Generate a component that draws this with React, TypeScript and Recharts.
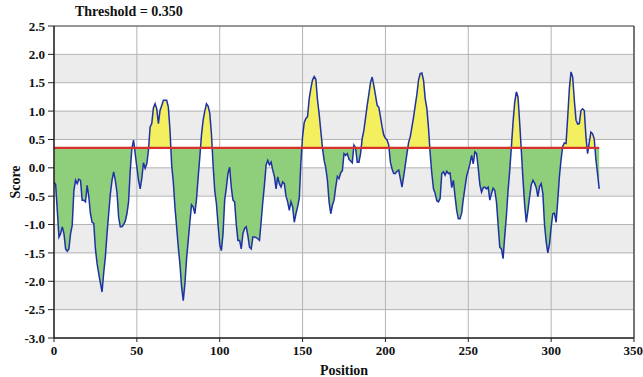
import { ComposedChart, Area, Line, XAxis, YAxis, CartesianGrid, ReferenceLine } from "recharts"

const THRESHOLD = 0.35

const positions = [
  0, 1, 3, 4, 5, 6, 7, 8, 9, 10, 11, 12, 13, 14, 15, 16, 17, 18, 19, 20,
  21, 22, 23, 24, 25, 26, 27, 29, 30, 31, 32, 33, 34, 35, 36, 37, 38, 39, 40, 41,
  42, 43, 44, 45, 46, 47, 48, 49, 50, 51, 52, 53, 54, 55, 56, 57, 58, 59, 60, 61,
  62, 63, 64, 65, 66, 68, 69, 70, 71, 72, 73, 74, 75, 76, 77, 78, 79, 80, 81, 82,
  83, 84, 85, 86, 87, 88, 89, 90, 91, 92, 93, 94, 95, 96, 97, 98, 99, 100, 101, 102,
  103, 104, 105, 106, 107, 108, 109, 110, 111, 112, 113, 114, 115, 116, 117, 118, 119, 120, 121, 122,
  123, 124, 125, 126, 127, 128, 129, 130, 131, 132, 133, 134, 135, 136, 137, 138, 139, 140, 141, 142,
  143, 144, 145, 146, 147, 148, 149, 150, 151, 152, 153, 154, 155, 156, 157, 158, 159, 160, 161, 162,
  163, 164, 165, 166, 167, 168, 169, 170, 171, 172, 173, 174, 175, 176, 177, 178, 179, 180, 181, 182,
  183, 184, 185, 186, 187, 188, 189, 190, 191, 192, 193, 194, 195, 196, 197, 198, 199, 200, 201, 202,
  203, 204, 205, 206, 207, 208, 209, 210, 211, 212, 213, 214, 215, 216, 217, 218, 219, 220, 221, 222,
  223, 224, 225, 226, 227, 228, 229, 230, 231, 232, 233, 234, 235, 236, 237, 238, 239, 240, 241, 242,
  243, 244, 245, 246, 247, 248, 249, 250, 251, 252, 253, 254, 255, 256, 257, 258, 259, 260, 261, 262,
  263, 264, 265, 266, 267, 268, 269, 270, 271, 272, 273, 274, 275, 276, 277, 278, 279, 280, 281, 282,
  283, 284, 285, 286, 287, 288, 289, 290, 291, 292, 293, 294, 295, 296, 297, 298, 299, 300, 301, 302,
  303, 304, 305, 306, 307, 308, 309, 310, 311, 312, 313, 314, 315, 316, 317, 318, 319, 320, 321, 322,
  323, 324, 325, 326, 327, 328, 329,
]

const scores = [
  -0.25, -0.3, -1.22, -1.16, -1.04, -1.16, -1.43, -1.47, -1.43, -1.16, -1.01, -0.4, -0.22, -0.28, -0.2, -0.22, -0.57, -0.57, -0.6, -0.31,
  -0.51, -0.81, -0.96, -0.98, -1.43, -1.69, -1.87, -2.19, -1.85, -1.57, -1.16, -0.81, -0.46, -0.22, -0.07, -0.22, -0.43, -0.87, -1.04, -1.04,
  -1.0, -0.94, -0.81, -0.6, -0.05, 0.34, 0.49, 0.25, 0.01, -0.22, -0.37, -0.18, 0.09, -0.01, 0.07, 0.31, 0.72, 0.78, 1.06, 1.13,
  1.04, 0.78, 1.01, 1.1, 1.19, 1.19, 1.07, 0.66, 0.05, -0.25, -0.7, -1.04, -1.4, -1.7, -2.1, -2.34, -2.04, -1.6, -1.28, -0.95,
  -0.65, -0.69, -0.81, -0.55, -0.16, 0.19, 0.58, 0.84, 1.0, 1.13, 1.09, 0.96, 0.6, 0.05, -0.4, -0.63, -1.0, -1.35, -1.46, -1.16,
  -0.57, -0.35, -0.1, 0.01, -0.35, -0.57, -0.6, -1.0, -1.28, -1.28, -1.43, -1.16, -1.07, -1.04, -1.2, -1.4, -1.43, -1.22, -1.22, -1.23,
  -1.25, -1.28, -0.95, -0.6, -0.3, 0.05, 0.13, 0.05, 0.1, -0.04, -0.15, -0.37, -0.16, -0.28, -0.34, -0.25, -0.28, -0.5, -0.6, -0.75,
  -0.6, -0.69, -0.96, -0.81, -0.69, -0.54, 0.1, 0.55, 0.8, 0.87, 0.9, 1.22, 1.4, 1.55, 1.61, 1.56, 1.2, 0.95, 0.65, 0.35,
  0.13, 0.0, -0.22, -0.6, -0.81, -0.66, -0.57, -0.34, -0.15, -0.19, -0.09, -0.05, 0.25, 0.22, 0.25, 0.15, 0.12, 0.09, 0.4, 0.35,
  0.1, 0.1, 0.25, 0.52, 0.66, 0.88, 1.1, 1.3, 1.5, 1.6, 1.45, 1.28, 1.1, 1.07, 0.9, 0.72, 0.58, 0.52, 0.49, 0.4,
  0.1, -0.02, -0.1, -0.1, -0.06, -0.04, -0.19, -0.34, -0.15, 0.05, 0.25, 0.45, 0.55, 0.72, 0.9, 1.1, 1.3, 1.55, 1.66, 1.67,
  1.54, 1.22, 1.05, 0.7, 0.25, -0.1, -0.37, -0.45, -0.58, -0.6, -0.54, -0.1, -0.07, -0.13, -0.06, -0.1, -0.09, -0.35, -0.22, -0.5,
  -0.75, -0.9, -0.9, -0.8, -0.55, -0.35, -0.15, -0.04, 0.07, 0.22, 0.07, 0.28, 0.25, 0.0, -0.3, -0.43, -0.35, -0.34, -0.37, -0.34,
  -0.57, -0.45, -0.36, -0.4, -0.6, -1.0, -1.4, -1.43, -1.6, -1.2, -0.85, -0.4, -0.05, 0.37, 0.8, 1.15, 1.34, 1.25, 0.8, 0.3,
  -0.2, -0.65, -0.96, -0.75, -0.51, -0.3, -0.22, -0.27, -0.35, -0.51, -0.33, -0.28, -0.45, -1.0, -1.3, -1.5, -1.35, -1.04, -0.81, -0.8,
  -0.96, -0.57, -0.15, 0.15, 0.38, 0.44, 0.43, 0.9, 1.4, 1.69, 1.6, 1.19, 0.84, 0.77, 0.78, 1.01, 1.04, 1.01, 0.55, 0.25,
  0.45, 0.63, 0.6, 0.51, 0.15, -0.1, -0.37,
]

const xTicks = [0, 50, 100, 150, 200, 250, 300, 350]
const yTicks = [2.5, 2.0, 1.5, 1.0, 0.5, 0.0, -0.5, -1.0, -1.5, -2.0, -2.5, -3.0]

const data = positions.map((pos, i) => ({
  pos,
  score: scores[i],
  band: [THRESHOLD, scores[i]],
  threshold: THRESHOLD,
}))

// split the fill colour at the threshold (gradient runs over the area's bounding box)
const hi = Math.max(...scores, THRESHOLD)
const lo = Math.min(...scores, THRESHOLD)
const split = (hi - THRESHOLD) / (hi - lo)

const font = '"Liberation Serif", "Times New Roman", serif'
const tickStyle = { fill: "#111", fontSize: 13, fontWeight: 700, fontFamily: font }

export default function App() {
  return (
    <div style={{ position: "absolute", left: 0, top: 0, width: 643, height: 377, background: "#fff" }}>
      <div
        style={{
          position: "absolute",
          left: 75,
          top: 4,
          fontFamily: font,
          fontWeight: 700,
          fontSize: 14,
          color: "#111",
        }}
      >
        Threshold = 0.350
      </div>
      <ComposedChart width={643} height={377} data={data} margin={{ top: 26, right: 9, left: 0, bottom: 0 }}>
        <defs>
          <linearGradient id="splitFill" x1="0" y1="0" x2="0" y2="1">
            <stop offset={split} stopColor="#f3ef5f" />
            <stop offset={split} stopColor="#8fcf7c" />
          </linearGradient>
        </defs>
        <CartesianGrid stroke="#b4b4b4" horizontalFill={["#ffffff", "#ececec"]} />
        <XAxis
          type="number"
          dataKey="pos"
          domain={[0, 350]}
          ticks={xTicks}
          height={39}
          tick={tickStyle}
          tickSize={4}
          tickMargin={4}
          axisLine={{ stroke: "#222", strokeWidth: 1.5 }}
          tickLine={{ stroke: "#222" }}
          label={{ value: "Position", position: "insideBottom", offset: 2, style: { ...tickStyle, fontSize: 14 } }}
        />
        <YAxis
          type="number"
          domain={[-3, 2.5]}
          ticks={yTicks}
          width={54}
          interval={0}
          tick={tickStyle}
          tickSize={6}
          tickMargin={3}
          tickFormatter={(v: number) => v.toFixed(1)}
          axisLine={{ stroke: "#222", strokeWidth: 1.5 }}
          tickLine={{ stroke: "#222" }}
          label={{
            value: "Score",
            angle: -90,
            position: "insideLeft",
            offset: 15,
            style: { ...tickStyle, fontSize: 14, textAnchor: "middle" },
          }}
        />
        <ReferenceLine y={2.5} stroke="#555" strokeWidth={1.2} />
        <ReferenceLine x={350} stroke="#333" strokeWidth={1.2} />
        <Area
          type="linear"
          dataKey="band"
          stroke="none"
          fill="url(#splitFill)"
          fillOpacity={1}
          isAnimationActive={false}
        />
        <Line type="linear" dataKey="score" stroke="#1f32a3" strokeWidth={1.5} dot={false} isAnimationActive={false} />
        <Line type="linear" dataKey="threshold" stroke="#d8302a" strokeWidth={2.2} dot={false} isAnimationActive={false} />
      </ComposedChart>
    </div>
  )
}
